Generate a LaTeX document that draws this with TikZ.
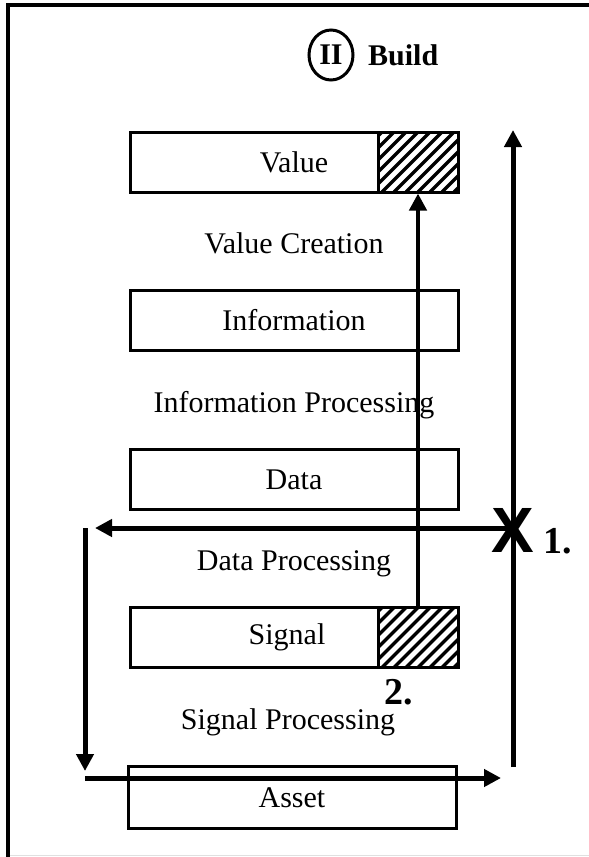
\documentclass[tikz,border=0pt]{standalone}
\usepackage{fontspec}
\setmainfont{Liberation Serif}
\setsansfont{Liberation Sans}
\usetikzlibrary{arrows.meta,shapes.geometric}
\tikzset{
  hatchfill/.style={path picture={
    \foreach \i in {-80,-68,...,100}{
      \draw[line width=3.5pt] ([xshift=\i pt]path picture bounding box.south west) -- ++(80pt,80pt);
    }}},
}
\begin{document}
\begin{tikzpicture}[x=1pt,y=-1pt,
  txt/.style={font=\fontsize{30}{32}\selectfont},
  box/.style={draw,line width=3pt,minimum height=60pt,minimum width=328pt,inner sep=0pt,txt},
  hbox/.style={draw,line width=3pt,minimum height=60pt,minimum width=80pt,inner sep=0pt,hatchfill},
  lbl/.style={txt,inner sep=0pt,anchor=base},
  num/.style={font=\fontsize{38}{40}\selectfont\bfseries,inner sep=0pt,anchor=base},
  arr/.style={line width=5pt,-{Triangle[length=17pt,width=17pt]}},
]
\useasboundingbox (0,0) rectangle (589,857);
% frame
\draw[line width=4pt] (8,857) -- (8,5) -- (589,5);
\draw[line width=1.2pt,black!12] (10,855.5) -- (589,855.5);

% title
\node[ellipse,draw,line width=3pt,minimum width=44pt,minimum height=50pt,inner sep=0pt,
      font=\fontsize{30}{32}\selectfont\bfseries] (ii) at (331,55) {II};
\node[font=\fontsize{30}{32}\selectfont\bfseries,anchor=west,inner sep=0pt] (build) at (368,55) {Build};

% boxes
\node[box] (val) at (294,162) {Value};
\node[hbox] (valh) at (418,162) {};
\node[box] (inf) at (294,320) {Information};
\node[box] (dat) at (294,479.5) {Data};
\node[box,text width=300pt,align=center] (sig) at (294,637.5) {\hspace*{-14pt}Signal};
\node[hbox] (sigh) at (418,637.5) {};
\node[box,minimum height=62pt] (ast) at (292,797.5) {Asset};

% process labels
\node[lbl] (lvc) at (294,253) {Value Creation};
\node[lbl] (lip) at (294,412) {Information Processing};
\node[lbl] (ldp) at (294,570) {Data Processing};
\node[lbl] (lsp) at (288,729) {Signal Processing};

% coordinates
\coordinate (rb) at (513,767);
\coordinate (rt) at (513,130);
\coordinate (hr) at (513,528);
\coordinate (hl) at (95,528);
\coordinate (lt) at (85,528);
\coordinate (lb) at (85,771);
\coordinate (bl) at (85,778);
\coordinate (br) at (501,778);

% arrows
\draw[arr,line width=4.5pt] (sigh.north) -- (valh.south);
\draw[arr] (rb) -- (rt);
\draw[arr] (hr) -- (hl);
\draw[arr] (lt) -- (lb);
\draw[arr] (bl) -- (br);

% X mark and numbers
\node[font=\fontsize{64}{64}\selectfont\sffamily\bfseries,inner sep=0pt] (xm) at (513,530) {X};
\node[num] (n1) at (558,553) {1.};
\node[num] (n2) at (399,704) {2.};
\end{tikzpicture}
\end{document}
